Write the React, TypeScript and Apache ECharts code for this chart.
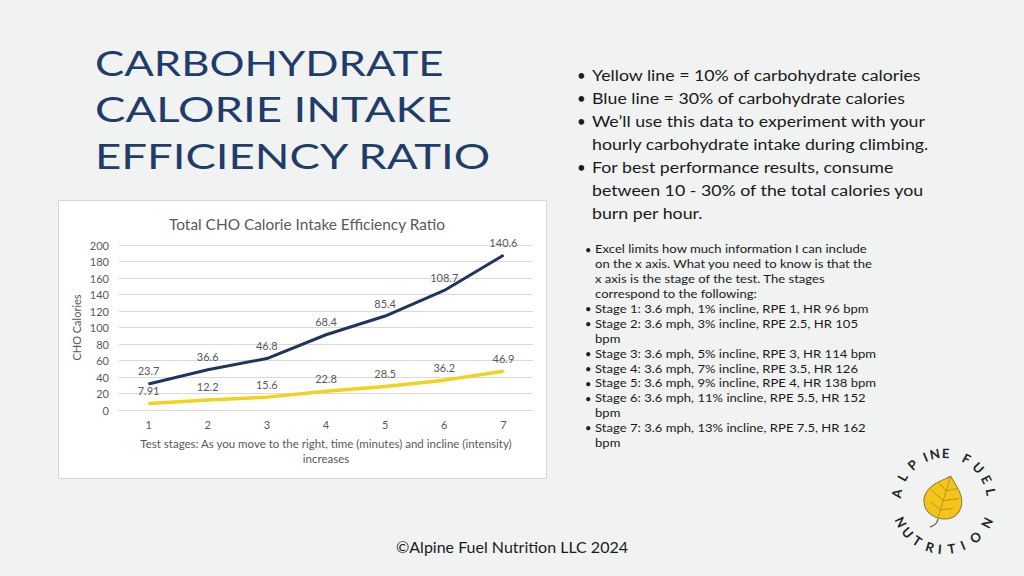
import React, { useEffect, useRef } from "react";
import * as echarts from "echarts";

const stages = ["1", "2", "3", "4", "5", "6", "7"];
const yellowValues = [7.91, 12.2, 15.6, 22.8, 28.5, 36.2, 46.9];
const blueValues = [23.7, 36.6, 46.8, 68.4, 85.4, 108.7, 140.6];
const yMin = 0;
const yMax = 200;
const yInterval = 20;

const chartTitle = "Total CHO Calorie Intake Efficiency Ratio";
const yAxisName = "CHO Calories";
const xAxisName =
  "Test stages: As you move to the right, time (minutes) and incline (intensity)\nincreases";

const headingLines = ["CARBOHYDRATE", "CALORIE INTAKE", "EFFICIENCY RATIO"];

const mainBullets = [
  ["Yellow line = 10% of carbohydrate calories"],
  ["Blue line = 30% of carbohydrate calories"],
  ["We\u2019ll use this data to experiment with your", "hourly carbohydrate intake during climbing."],
  ["For best performance results, consume", "between 10 - 30% of the total calories you", "burn per hour."],
];

const noteBullets = [
  [
    "Excel limits how much information I can include",
    "on the x axis. What you need to know is that the",
    "x axis is the stage of the test. The stages",
    "correspond to the following:",
  ],
  ["Stage 1: 3.6 mph, 1% incline, RPE 1, HR 96 bpm"],
  ["Stage 2: 3.6 mph, 3% incline, RPE 2.5, HR 105", "bpm"],
  ["Stage 3: 3.6 mph, 5% incline, RPE 3, HR 114 bpm"],
  ["Stage 4: 3.6 mph, 7% incline, RPE 3.5, HR 126"],
  ["Stage 5: 3.6 mph, 9% incline, RPE 4, HR 138 bpm"],
  ["Stage 6: 3.6 mph, 11% incline, RPE 5.5, HR 152", "bpm"],
  ["Stage 7: 3.6 mph, 13% incline, RPE 7.5, HR 162", "bpm"],
];

const footer = "\u00A9Alpine Fuel Nutrition LLC 2024";
const logoTop = "ALPINE FUEL";
const logoBottom = "NUTRITION";

const LEAF_D =
  "M0,-24 C7,-17 20,-9 20,4 C20,16 10,22 0,22 C-10,22 -20,16 -20,4 C-20,-9 -7,-17 0,-24 Z";
const VEIN_D =
  "M0,-22 L0,21 M0,-8 L11,-14 M0,-8 L-11,-14 M0,3 L15,-4 M0,3 L-15,-4 M0,13 L12,8 M0,13 L-12,8";

echarts.graphic.registerShape("leafShape", echarts.graphic.extendPath(LEAF_D, {}) as any);
echarts.graphic.registerShape("leafVeins", echarts.graphic.extendPath(VEIN_D, {}) as any);

const FONT = "Lato, 'Open Sans', sans-serif";

function buildGraphics(): any[] {
  const g: any[] = [];
  // chart box
  g.push({
    type: "rect",
    z: -10,
    shape: { x: 58.5, y: 200.5, width: 488, height: 278 },
    style: { fill: "#ffffff", stroke: "#d6d6d6", lineWidth: 1 },
  });
  // heading
  const headScale = [1.25, 1.3, 1.3];
  headingLines.forEach((t, i) => {
    g.push({
      type: "text",
      x: 95,
      y: 62.5 + i * 46.5,
      scaleX: headScale[i],
      style: {
        text: t,
        font: `normal 35px ${FONT}`,
        fill: "#1f3c6a",
        verticalAlign: "middle",
        align: "left",
      },
    });
  });
  // main bullets
  let y = 75;
  mainBullets.forEach((lines) => {
    g.push({
      type: "text",
      x: 577,
      y,
      style: { text: "\u2022", font: `normal 15px ${FONT}`, fill: "#1a1a1a", verticalAlign: "middle" },
    });
    lines.forEach((ln) => {
      g.push({
        type: "text",
        x: 592,
        y,
        scaleX: 1.11,
        style: { text: ln, font: `normal 16px ${FONT}`, fill: "#1a1a1a", verticalAlign: "middle" },
      });
      y += 22.9;
    });
  });
  // note bullets
  y = 249;
  noteBullets.forEach((lines) => {
    g.push({
      type: "text",
      x: 585,
      y,
      style: { text: "\u2022", font: `normal 11px ${FONT}`, fill: "#1a1a1a", verticalAlign: "middle" },
    });
    lines.forEach((ln) => {
      g.push({
        type: "text",
        x: 595,
        y,
        scaleX: 1.09,
        style: { text: ln, font: `normal 12px ${FONT}`, fill: "#1a1a1a", verticalAlign: "middle" },
      });
      y += 14.9;
    });
  });
  // footer
  g.push({
    type: "text",
    x: 512,
    y: 546,
    style: {
      text: footer,
      font: `normal 16px ${FONT}`,
      fill: "#1a1a1a",
      align: "center",
      verticalAlign: "middle",
    },
  });
  // logo
  const cx = 944;
  const cy = 501;
  const r = 48;
  const topAngles = [171, 150, 131, 113, 101, 88, null, 62, 44, 27, 11];
  logoTop.split("").forEach((ch, i) => {
    const a = topAngles[i];
    if (a === null || ch === " ") return;
    const rad = (a * Math.PI) / 180;
    g.push({
      type: "text",
      x: cx + r * Math.cos(rad),
      y: cy - r * Math.sin(rad),
      rotation: ((a - 90) * Math.PI) / 180,
      style: {
        text: ch,
        font: `bold 13px ${FONT}`,
        fill: "#222222",
        align: "center",
        verticalAlign: "middle",
      },
    });
  });
  const botAngles = [206, 221, 236, 253, 265, 279, 293, 311, 333];
  logoBottom.split("").forEach((ch, i) => {
    const a = botAngles[i];
    const rad = (a * Math.PI) / 180;
    g.push({
      type: "text",
      x: cx + r * Math.cos(rad),
      y: cy - r * Math.sin(rad),
      rotation: ((a + 90) * Math.PI) / 180,
      style: {
        text: ch,
        font: `bold 13px ${FONT}`,
        fill: "#222222",
        align: "center",
        verticalAlign: "middle",
      },
    });
  });
  // leaf stem
  g.push({
    type: "bezierCurve",
    shape: { x1: 938, y1: 519, x2: 930, y2: 527, cpx1: 937, cpy1: 525 },
    style: { stroke: "#6b6b5a", lineWidth: 1.5, fill: "none" },
  });
  g.push({
    type: "leafShape",
    x: 944,
    y: 498,
    rotation: -0.3,
    scaleX: 0.95,
    scaleY: 0.95,
    style: { fill: "#f4c41a", stroke: "#8a7a3a", lineWidth: 1 },
  });
  g.push({
    type: "leafVeins",
    x: 944,
    y: 498,
    rotation: -0.3,
    scaleX: 0.95,
    scaleY: 0.95,
    style: { fill: "none", stroke: "#b08c1a", lineWidth: 0.8 },
  });
  return g;
}

export default function App() {
  const ref = useRef<HTMLDivElement>(null);
  useEffect(() => {
    if (!ref.current) return;
    const chart = echarts.init(ref.current, undefined, { renderer: "svg" });
    const labelStyle = {
      show: true,
      position: "top" as const,
      distance: 7,
      color: "#595959",
      fontSize: 11,
      fontFamily: FONT,
    };
    chart.setOption({
      animation: false,
      backgroundColor: "#f1f2f2",
      textStyle: { fontFamily: FONT },
      title: {
        text: chartTitle,
        left: 302,
        top: 211,
        textAlign: "center",
        textStyle: { fontSize: 15.4, fontWeight: "normal", color: "#595959", fontFamily: FONT },
      },
      grid: { left: 119, right: 491, top: 245, bottom: 166, containLabel: false },
      xAxis: {
        type: "category",
        data: stages,
        boundaryGap: true,
        axisLine: { show: true, lineStyle: { color: "#d9d9d9" } },
        axisTick: { show: false },
        axisLabel: { color: "#595959", fontSize: 11, margin: 9, fontFamily: FONT },
        name: xAxisName,
        nameLocation: "middle",
        nameGap: 26,
        nameTextStyle: { color: "#595959", fontSize: 11.5, lineHeight: 15, fontFamily: FONT },
      },
      yAxis: {
        type: "value",
        min: yMin,
        max: yMax,
        interval: yInterval,
        axisLine: { show: false },
        axisTick: { show: false },
        splitLine: { lineStyle: { color: "#d9d9d9" } },
        axisLabel: { color: "#595959", fontSize: 11, margin: 10, fontFamily: FONT },
        name: yAxisName,
        nameLocation: "middle",
        nameRotate: 90,
        nameGap: 37,
        nameTextStyle: { color: "#595959", fontSize: 11, fontFamily: FONT },
      },
      series: [
        {
          name: "10%",
          type: "line",
          stack: "cho",
          data: yellowValues,
          symbol: "circle",
          symbolSize: 1,
          itemStyle: { color: "#f2d21c" },
          lineStyle: { color: "#f2d21c", width: 3.5 },
          label: labelStyle,
        },
        {
          name: "30%",
          type: "line",
          stack: "cho",
          data: blueValues,
          symbol: "circle",
          symbolSize: 1,
          itemStyle: { color: "#1f355e" },
          lineStyle: { color: "#1f355e", width: 3 },
          label: labelStyle,
        },
      ],
      graphic: buildGraphics(),
    });
    return () => chart.dispose();
  }, []);
  return (
    <div
      ref={ref}
      style={{ position: "absolute", left: 0, top: 0, width: 1024, height: 576 }}
    />
  );
}
